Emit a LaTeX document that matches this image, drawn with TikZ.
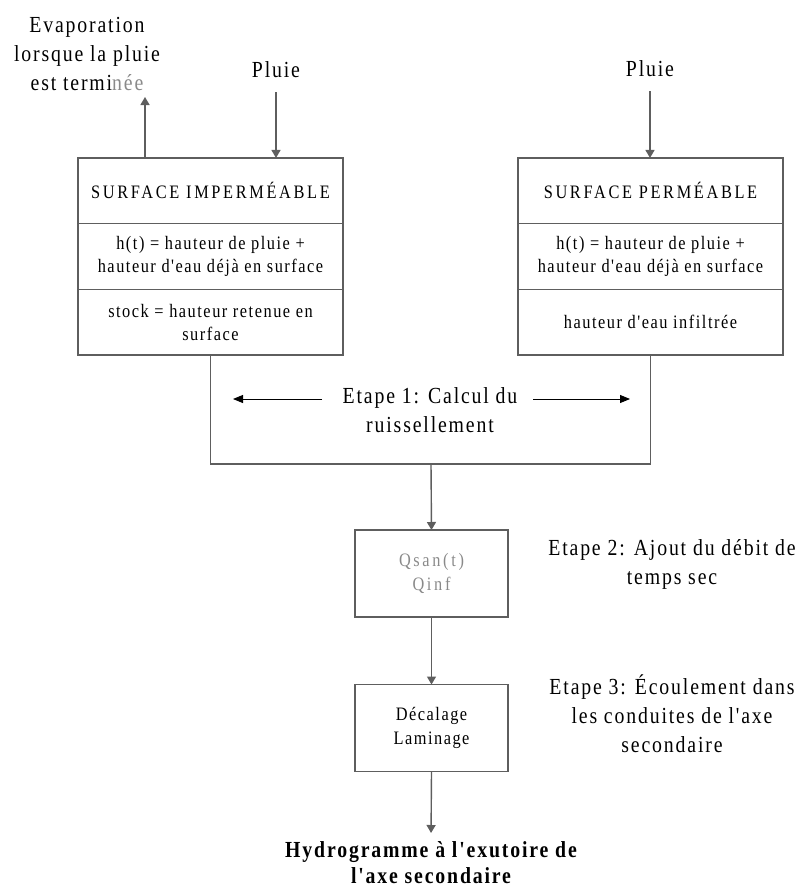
\documentclass[tikz,border=0pt]{standalone}
\usepackage{fontspec}
\setmainfont{Liberation Serif}[FakeStretch=0.86,LetterSpace=8,Ligatures=TeXOff]
\usetikzlibrary{positioning,arrows.meta}
\definecolor{boxgray}{HTML}{5E5E5E}
\definecolor{txtgray}{HTML}{8A8A8A}

\begin{document}
\begin{tikzpicture}[x=1pt,y=-1pt,
    part/.style={draw=boxgray,line width=1.4pt,minimum width=265pt,minimum height=65.7pt,
      inner sep=0pt,outer sep=0pt,align=center,font=\fontsize{19}{23}\selectfont},
    stepbox/.style={draw=boxgray,line width=1.4pt,minimum width=153pt,minimum height=87pt,
      inner sep=0pt,outer sep=0pt,align=center,font=\fontsize{19}{24}\selectfont},
    lbl/.style={align=center,inner sep=2pt,font=\fontsize{23}{29}\selectfont},
    garr/.style={draw=boxgray,line width=1.4pt,-{Triangle[length=8pt,width=9pt]}},
    barr/.style={draw=black,line width=0.9pt,-{Triangle[length=10pt,width=8pt]}}]
  \useasboundingbox (0,0) rectangle (803,891);

  % surface imperméable
  \node[part] (imp1) at (210.5,190.8) {\addfontfeature{LetterSpace=14}SURFACE IMPERMÉABLE};
  \node[part,below=0pt of imp1] (imp2) {h(t) = hauteur de pluie +\\hauteur d'eau déjà en surface};
  \node[part,below=0pt of imp2] (imp3) {stock = hauteur retenue en\\surface};

  % surface perméable
  \node[part] (perm1) at (650.5,190.8) {\addfontfeature{LetterSpace=14}SURFACE PERMÉABLE};
  \node[part,below=0pt of perm1] (perm2) {h(t) = hauteur de pluie +\\hauteur d'eau déjà en surface};
  \node[part,below=0pt of perm2] (perm3) {hauteur d'eau infiltrée};

  % entrées en haut
  \node[lbl] (evap) at (87,54) {Evaporation\\lorsque la pluie\\est termi\textcolor{txtgray}{née}};
  \node[lbl] (pluieL) at (276,70) {Pluie};
  \node[lbl] (pluieR) at (650,69) {Pluie};
  \coordinate (evapfoot) at (145,158);
  \coordinate (evaptip) at (145,97);
  \draw[garr] (evapfoot) -- (evaptip);
  \draw[garr,shorten <=12pt] (pluieL.south) -- (pluieL.south |- imp1.north);
  \draw[garr,shorten <=12pt] (pluieR.south) -- (pluieR.south |- perm1.north);

  % etape 1
  \coordinate (ubase) at (431,464);
  \draw[draw=boxgray,line width=1.4pt] (imp3.south) |- (ubase) -| (perm3.south);
  \node[lbl] (etape1) at (430,410) {Etape 1: Calcul du\\ruissellement};
  \coordinate (e1ls) at (322,399);
  \coordinate (e1le) at (233,399);
  \coordinate (e1rs) at (533,399);
  \coordinate (e1re) at (630,399);
  \draw[barr] (e1ls) -- (e1le);
  \draw[barr] (e1rs) -- (e1re);

  % etapes 2 et 3
  \node[stepbox,text=txtgray] (qsan) at (431.5,573.5) {\addfontfeature{LetterSpace=14}Qsan(t)\\\addfontfeature{LetterSpace=14}Qinf};
  \node[stepbox] (decal) at (431.5,728) {Décalage\\Laminage};
  \node[lbl] (etape2) at (672,564) {Etape 2: Ajout du débit de\\temps sec};
  \node[lbl] (etape3) at (672,714) {Etape 3: Écoulement dans\\les conduites de l'axe\\secondaire};
  \node[lbl,anchor=north,font=\bfseries\fontsize{23}{26}\selectfont] (hydro) at (431,839) {Hydrogramme à l'exutoire de\\l'axe secondaire};

  \draw[garr] (ubase) -- (qsan.north);
  \draw[garr] (qsan.south) -- (decal.north);
  \draw[garr,shorten >=6pt] (decal.south) -- (hydro.north);
\end{tikzpicture}
\end{document}
